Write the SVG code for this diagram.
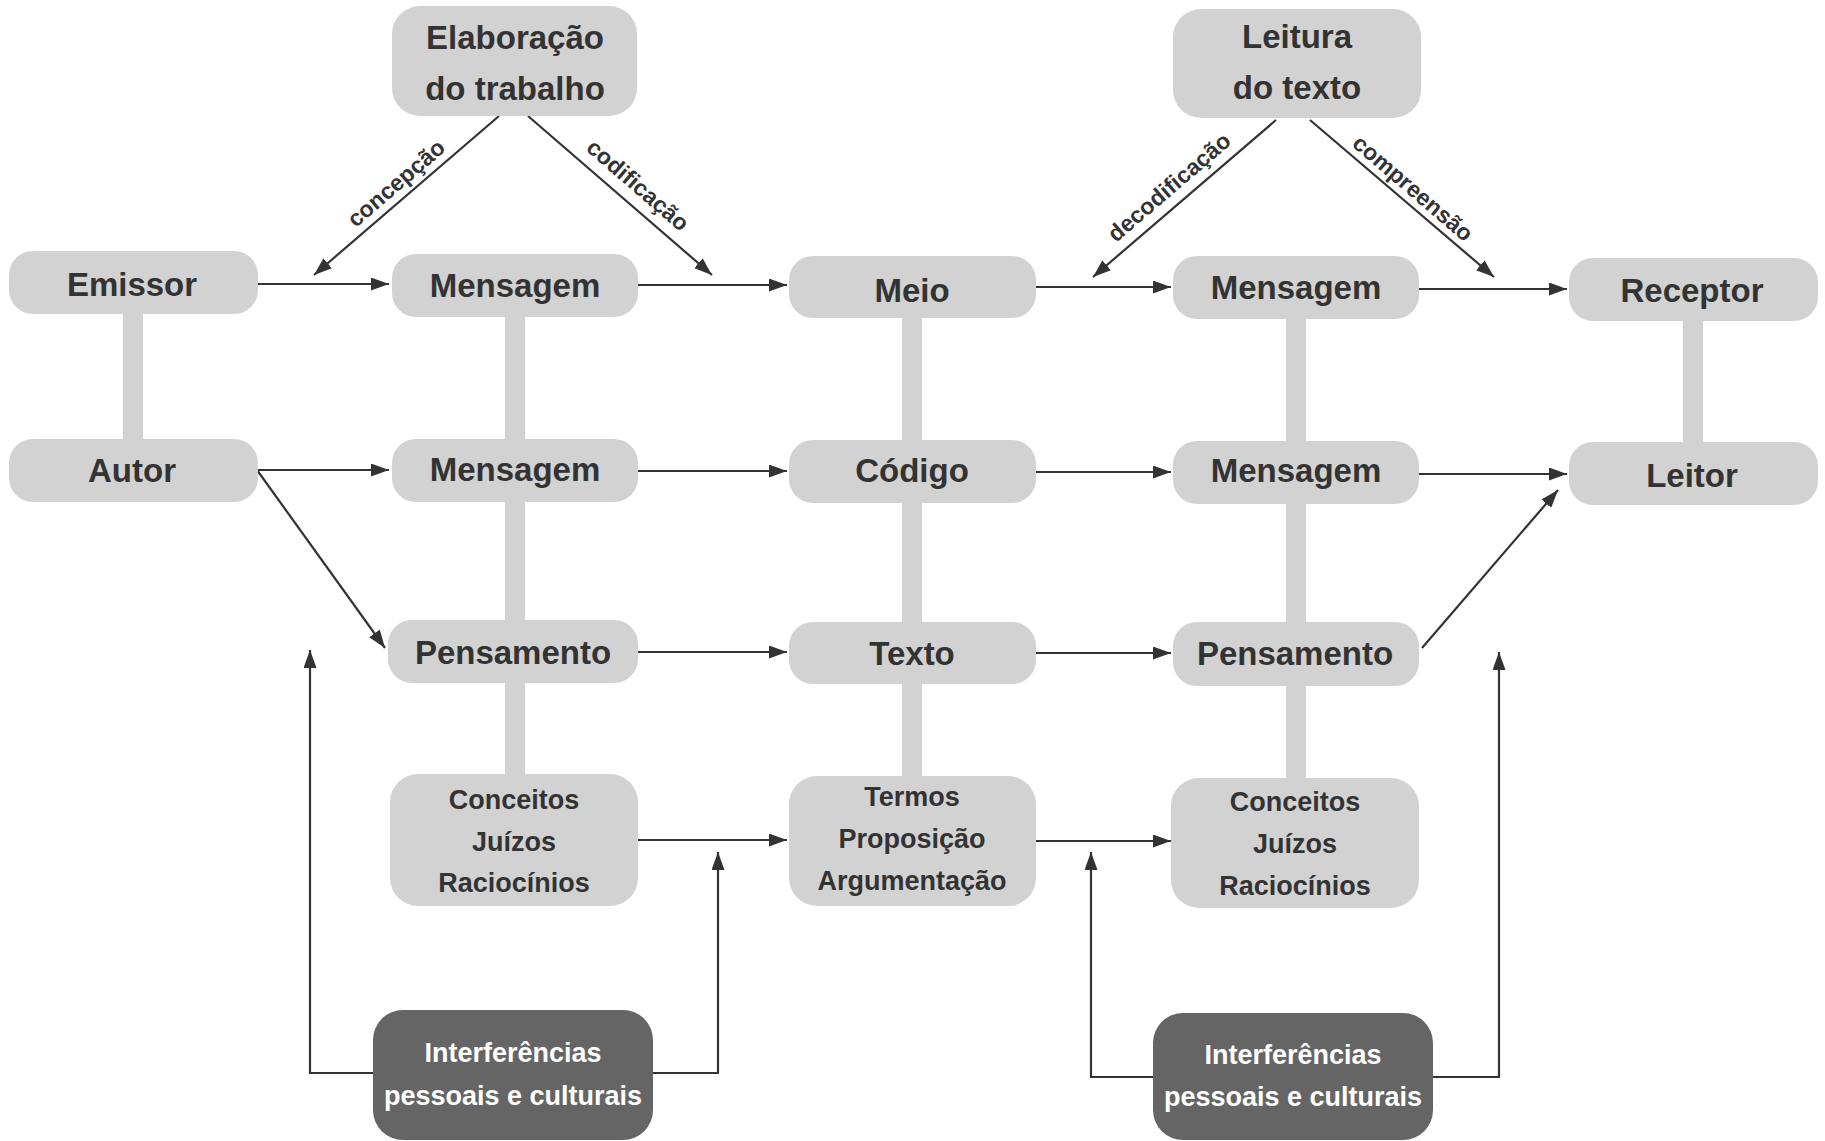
<svg xmlns="http://www.w3.org/2000/svg" width="1825" height="1141" viewBox="0 0 1825 1141">
<defs>
<marker id="ah" markerUnits="userSpaceOnUse" markerWidth="18" markerHeight="13" refX="18" refY="6.5" orient="auto">
<path d="M0,0 L18,6.5 L0,13 z" fill="#333333"/>
</marker>
<style>
.box{fill:#d2d2d2}
.dark{fill:#656565}
.bar{fill:#d2d2d2}
.t{font-family:"Liberation Sans",Arial,sans-serif;font-weight:bold;fill:#333333;text-anchor:middle;dominant-baseline:central}
.big{font-size:33px}
.mid{font-size:27px}
.lbl{font-size:23px}
.w{fill:#ffffff}
.c{fill:none;stroke:#333333;stroke-width:2.2}
.a{marker-end:url(#ah)}
</style>
</defs>
<rect width="1825" height="1141" fill="#ffffff"/>
<g id="bars">
<rect class="bar" x="123" y="300" width="20" height="150"/>
<rect class="bar" x="505" y="300" width="20" height="480"/>
<rect class="bar" x="902" y="300" width="20" height="480"/>
<rect class="bar" x="1286" y="300" width="20" height="480"/>
<rect class="bar" x="1683" y="300" width="20" height="150"/>
</g>
<g id="connectors">
<path class="c a" d="M258,284 L389,284"/>
<path class="c a" d="M638,285 L787,285"/>
<path class="c a" d="M1036,287 L1171,287"/>
<path class="c a" d="M1419,289 L1567,289"/>
<path class="c a" d="M258,470 L389,470"/>
<path class="c a" d="M638,471 L787,471"/>
<path class="c a" d="M1036,472 L1171,472"/>
<path class="c a" d="M1419,474 L1567,474"/>
<path class="c a" d="M257,470 L385,648"/>
<path class="c a" d="M638,652 L787,652"/>
<path class="c a" d="M1036,653 L1171,653"/>
<path class="c a" d="M1422,648 L1558,490"/>
<path class="c a" d="M638,840 L787,840"/>
<path class="c a" d="M1036,841 L1171,841"/>
<path class="c a" d="M374,1073 L310,1073 L310,650"/>
<path class="c a" d="M652,1073 L718,1073 L718,852"/>
<path class="c a" d="M1153,1077 L1091,1077 L1091,852"/>
<path class="c a" d="M1433,1077 L1499,1077 L1499,652"/>
<path class="c a" d="M499,116 L314,275"/>
<path class="c a" d="M528,116 L712,275"/>
<path class="c a" d="M1276,120 L1093,277"/>
<path class="c a" d="M1310,120 L1494,277"/>
<text class="t lbl" transform="translate(396,183) rotate(-40.7)">concepção</text>
<text class="t lbl" transform="translate(638,185) rotate(40.8)">codificação</text>
<text class="t lbl" transform="translate(1169,187) rotate(-40.6)">decodificação</text>
<text class="t lbl" transform="translate(1413,188) rotate(40.6)">compreensão</text>
</g>
<g id="elaboracao"><rect class="box" x="392" y="6" width="245" height="110" rx="28"/><text class="t big" x="515" y="37">Elaboração</text><text class="t big" x="515" y="88">do trabalho</text></g>
<g id="leitura"><rect class="box" x="1173" y="9" width="248" height="109" rx="28"/><text class="t big" x="1297" y="36">Leitura</text><text class="t big" x="1297" y="87">do texto</text></g>
<g id="emissor"><rect class="box" x="9" y="251" width="249" height="63" rx="24"/><text class="t big" x="132" y="284">Emissor</text></g>
<g id="mensagem1"><rect class="box" x="392" y="254" width="246" height="63" rx="24"/><text class="t big" x="515" y="285">Mensagem</text></g>
<g id="meio"><rect class="box" x="789" y="256" width="247" height="62" rx="24"/><text class="t big" x="912" y="290">Meio</text></g>
<g id="mensagem1r"><rect class="box" x="1173" y="256" width="246" height="63" rx="24"/><text class="t big" x="1296" y="287">Mensagem</text></g>
<g id="receptor"><rect class="box" x="1569" y="258" width="249" height="63" rx="24"/><text class="t big" x="1692" y="290">Receptor</text></g>
<g id="autor"><rect class="box" x="9" y="439" width="249" height="63" rx="24"/><text class="t big" x="132" y="470">Autor</text></g>
<g id="mensagem2"><rect class="box" x="392" y="439" width="246" height="63" rx="24"/><text class="t big" x="515" y="469">Mensagem</text></g>
<g id="codigo"><rect class="box" x="789" y="440" width="247" height="63" rx="24"/><text class="t big" x="912" y="470">Código</text></g>
<g id="mensagem2r"><rect class="box" x="1173" y="441" width="246" height="63" rx="24"/><text class="t big" x="1296" y="470">Mensagem</text></g>
<g id="leitor"><rect class="box" x="1569" y="442" width="249" height="63" rx="24"/><text class="t big" x="1692" y="475">Leitor</text></g>
<g id="pensamento"><rect class="box" x="388" y="620" width="250" height="63" rx="24"/><text class="t big" x="513" y="652">Pensamento</text></g>
<g id="texto"><rect class="box" x="789" y="622" width="247" height="62" rx="24"/><text class="t big" x="912" y="653">Texto</text></g>
<g id="pensamentor"><rect class="box" x="1173" y="622" width="246" height="64" rx="24"/><text class="t big" x="1295" y="653">Pensamento</text></g>
<g id="conceitos"><rect class="box" x="390" y="774" width="248" height="132" rx="28"/><text class="t mid" x="514" y="800">Conceitos</text><text class="t mid" x="514" y="842">Juízos</text><text class="t mid" x="514" y="883">Raciocínios</text></g>
<g id="termos"><rect class="box" x="789" y="776" width="247" height="130" rx="28"/><text class="t mid" x="912" y="797">Termos</text><text class="t mid" x="912" y="839">Proposição</text><text class="t mid" x="912" y="881">Argumentação</text></g>
<g id="conceitosr"><rect class="box" x="1171" y="778" width="248" height="130" rx="28"/><text class="t mid" x="1295" y="802">Conceitos</text><text class="t mid" x="1295" y="844">Juízos</text><text class="t mid" x="1295" y="886">Raciocínios</text></g>
<g id="interferencias1"><rect class="dark" x="373" y="1010" width="280" height="130" rx="30"/><text class="t mid w" x="513" y="1053">Interferências</text><text class="t mid w" x="513" y="1096">pessoais e culturais</text></g>
<g id="interferencias2"><rect class="dark" x="1153" y="1013" width="280" height="127" rx="30"/><text class="t mid w" x="1293" y="1055">Interferências</text><text class="t mid w" x="1293" y="1097">pessoais e culturais</text></g>
</svg>
